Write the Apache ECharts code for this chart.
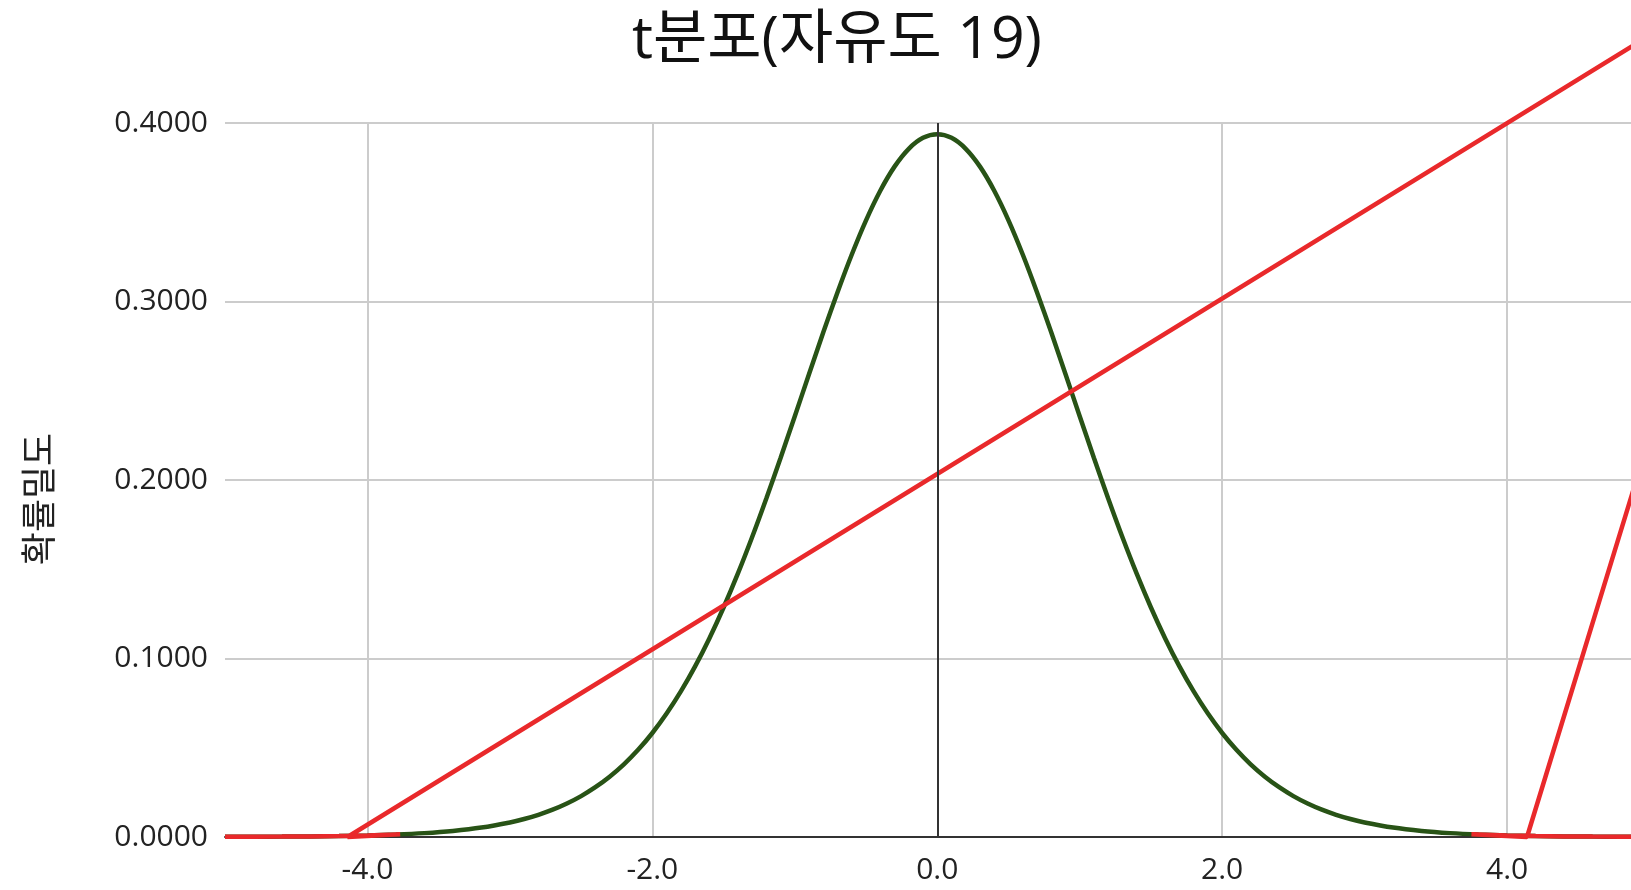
<!DOCTYPE html>
<html>
<head>
<meta charset="utf-8">
<script src="https://cdn.jsdelivr.net/npm/echarts@6/dist/echarts.min.js"></script>
<style>
html,body{margin:0;padding:0;background:#fff;}
#chart{width:1631px;height:890px;}
</style>
</head>
<body>
<div id="chart"></div>
<script>
// t-distribution (df = 19) density
const curveX = [-5.0,-4.8,-4.6,-4.4,-4.2,-4.0,-3.8,-3.6,-3.4,-3.2,-3.0,-2.9,-2.8,-2.7,-2.6,-2.5,-2.4,-2.3,-2.2,-2.1,-2.0,-1.9,-1.8,-1.7,-1.6,-1.5,-1.4,-1.3,-1.2,-1.1,-1.0,-0.9,-0.8,-0.7,-0.6,-0.5,-0.4,-0.3,-0.2,-0.1,0.0,0.1,0.2,0.3,0.4,0.5,0.6,0.7,0.8,0.9,1.0,1.1,1.2,1.3,1.4,1.5,1.6,1.7,1.8,1.9,2.0,2.1,2.2,2.3,2.4,2.5,2.6,2.7,2.8,2.9,3.0,3.2,3.4,3.6,3.8,4.0,4.2,4.4,4.6,4.8,5.0];
const curveY = [0.00009,0.00014,0.00022,0.00035,0.00055,0.00088,0.00138,0.00217,0.00340,0.00528,0.00815,0.01008,0.01244,0.01530,0.01876,0.02292,0.02788,0.03377,0.04071,0.04883,0.05827,0.06914,0.08154,0.09556,0.11124,0.12857,0.14751,0.16793,0.18965,0.21236,0.23574,0.25936,0.28272,0.30522,0.32635,0.34549,0.36206,0.37556,0.38554,0.39167,0.39373,0.39167,0.38554,0.37556,0.36206,0.34549,0.32635,0.30522,0.28272,0.25936,0.23574,0.21236,0.18965,0.16793,0.14751,0.12857,0.11124,0.09556,0.08154,0.06914,0.05827,0.04883,0.04071,0.03377,0.02788,0.02292,0.01876,0.01530,0.01244,0.01008,0.00815,0.00528,0.00340,0.00217,0.00138,0.00088,0.00055,0.00035,0.00022,0.00014,0.00009];

// red line, left part (tail, then back to baseline, then rising line)
const leftRedX = [-5.0,-4.8,-4.6,-4.4,-4.2,-4.0,-3.8,-3.77,-4.14,5.0];
const leftRedY = [0.00009,0.00014,0.00022,0.00035,0.00055,0.00088,0.00138,0.0015,0.0,0.449];
// red line, right part
const rightRedX = [5.0,4.8,4.6,4.4,4.2,4.0,3.8,3.75,4.14,5.0];
const rightRedY = [0.00009,0.00014,0.00022,0.00035,0.00055,0.00088,0.00138,0.0015,0.0,0.224];

const xTicks = [-4, -2, 0, 2, 4];
const titleText = 't분포(자유도 19)';
const yName = '확률밀도';

const zip = (a, b) => a.map((v, i) => [v, b[i]]);
const FONT = "'Open Sans', 'Noto Sans CJK KR', sans-serif";

const chart = echarts.init(document.getElementById('chart'));
chart.setOption({
  backgroundColor: '#ffffff',
  animation: false,
  title: {
    text: titleText,
    left: 832,
    top: 7,
    textAlign: 'center',
    textStyle: { fontFamily: FONT, fontSize: 59, fontWeight: 'normal', color: '#111' }
  },
  graphic: [{
    type: 'text',
    x: 42, y: 499,
    rotation: Math.PI / 2,
    style: { text: yName, fontFamily: FONT, fontSize: 36, fill: '#222', align: 'center', verticalAlign: 'middle' }
  }],
  grid: { left: 225, right: 0, top: 123, bottom: 53, containLabel: false },
  xAxis: {
    type: 'value', min: -5, max: 4.87,
    axisLine: { show: true, onZero: false, lineStyle: { color: '#333', width: 2 } },
    axisTick: { show: false, customValues: xTicks },
    axisLabel: { customValues: xTicks, formatter: v => v.toFixed(1), fontFamily: FONT, fontSize: 30, color: '#222', margin: 18 },
    splitLine: { show: true, lineStyle: { color: '#cccccc', width: 2 } }
  },
  yAxis: {
    type: 'value', min: 0, max: 0.4, interval: 0.1,
    axisLine: { show: false },
    axisTick: { show: false },
    axisLabel: { formatter: v => v.toFixed(4), fontFamily: FONT, fontSize: 30, color: '#222', margin: 17 },
    splitLine: { show: true, lineStyle: { color: '#cccccc', width: 2 } }
  },
  series: [
    {
      type: 'line', data: zip(curveX, curveY), smooth: 0.3, showSymbol: false,
      lineStyle: { color: '#285316', width: 4.5 }, z: 3,
      markLine: {
        silent: true, symbol: 'none', label: { show: false },
        lineStyle: { color: '#333', width: 2, type: 'solid' },
        data: [{ xAxis: 0 }]
      }
    },
    {
      type: 'line', data: zip(leftRedX, leftRedY), showSymbol: false, clip: false,
      lineStyle: { color: '#e9292b', width: 4.5 }, z: 4
    },
    {
      type: 'line', data: zip(rightRedX, rightRedY), showSymbol: false, clip: false,
      lineStyle: { color: '#e9292b', width: 4.5 }, z: 4
    }
  ]
});
</script>
</body>
</html>
